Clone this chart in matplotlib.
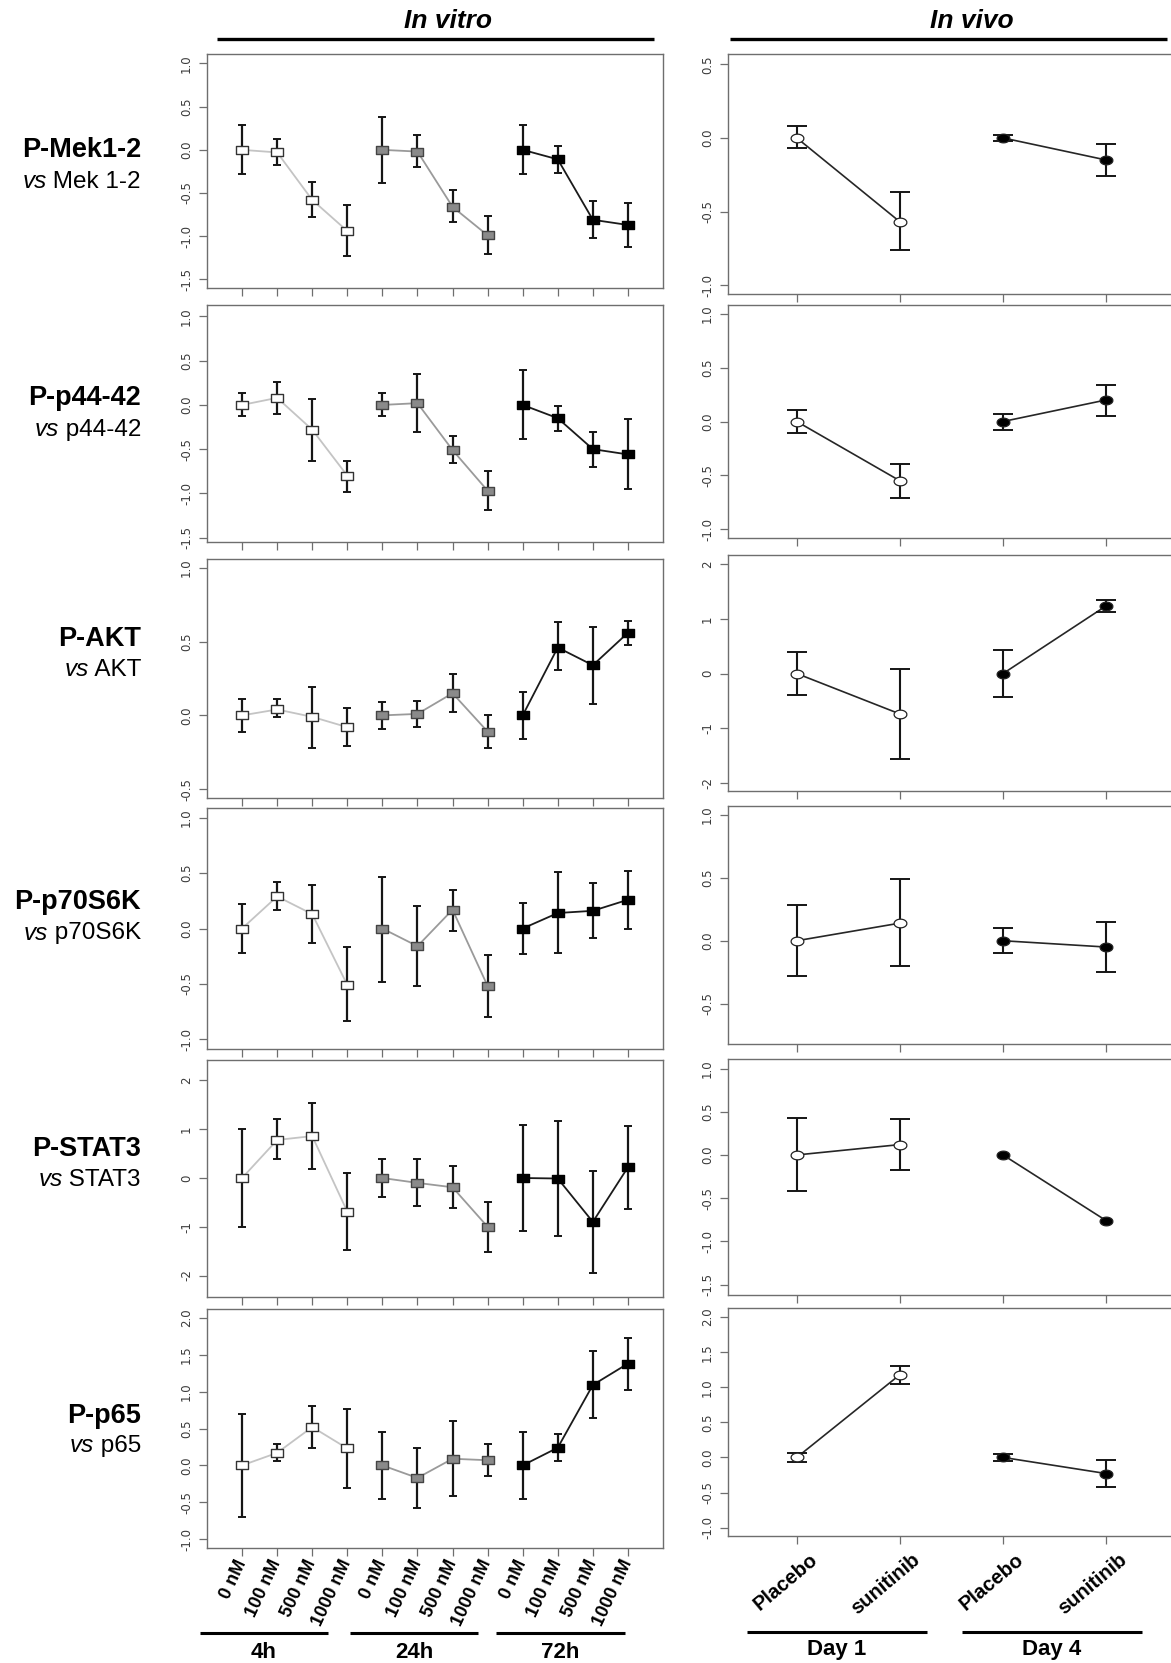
import matplotlib
matplotlib.use("Agg")
import matplotlib.pyplot as plt
from matplotlib.lines import Line2D
from matplotlib.transforms import ScaledTranslation
from matplotlib.path import Path
import numpy as np

W, H, DPI = 1171, 1663, 100

# ---------------- data ----------------
dose_labels = ["0 nM", "100 nM", "500 nM", "1000 nM"]
time_labels = ["4h", "24h", "72h"]
vivo_labels = ["Placebo", "sunitinib"]
day_labels = ["Day 1", "Day 4"]
phospho = ["P-Mek1-2", "P-p44-42", "P-AKT", "P-p70S6K", "P-STAT3", "P-p65"]
totals = ["Mek 1-2", "p44-42", "AKT", "p70S6K", "STAT3", "p65"]

# in vitro: 12 values = 4 doses x (4h, 24h, 72h)
mek_vitro_mean = [0.0, -0.03, -0.58, -0.94, 0.0, -0.02, -0.66, -0.99, 0.0, -0.11, -0.81, -0.87]
mek_vitro_lo = [-0.28, -0.18, -0.78, -1.23, -0.38, -0.20, -0.84, -1.21, -0.28, -0.27, -1.02, -1.12]
mek_vitro_hi = [0.29, 0.13, -0.37, -0.64, 0.38, 0.17, -0.47, -0.77, 0.29, 0.05, -0.59, -0.61]

p44_vitro_mean = [0.0, 0.08, -0.28, -0.80, 0.0, 0.02, -0.51, -0.97, 0.0, -0.15, -0.50, -0.56]
p44_vitro_lo = [-0.13, -0.10, -0.63, -0.98, -0.12, -0.31, -0.66, -1.19, -0.39, -0.29, -0.70, -0.95]
p44_vitro_hi = [0.14, 0.26, 0.07, -0.63, 0.13, 0.35, -0.35, -0.75, 0.40, -0.01, -0.31, -0.16]

akt_vitro_mean = [0.0, 0.04, -0.01, -0.08, 0.0, 0.01, 0.15, -0.11, 0.0, 0.46, 0.34, 0.56]
akt_vitro_lo = [-0.11, -0.01, -0.22, -0.21, -0.09, -0.08, 0.02, -0.22, -0.16, 0.31, 0.08, 0.48]
akt_vitro_hi = [0.11, 0.11, 0.19, 0.05, 0.09, 0.10, 0.28, 0.0, 0.16, 0.63, 0.60, 0.64]

s6k_vitro_mean = [0.0, 0.29, 0.13, -0.51, 0.0, -0.16, 0.17, -0.52, 0.0, 0.14, 0.16, 0.26]
s6k_vitro_lo = [-0.22, 0.17, -0.13, -0.84, -0.48, -0.52, -0.02, -0.80, -0.23, -0.22, -0.09, 0.0]
s6k_vitro_hi = [0.22, 0.42, 0.39, -0.17, 0.47, 0.20, 0.35, -0.24, 0.23, 0.51, 0.41, 0.52]

stat3_vitro_mean = [0.0, 0.78, 0.86, -0.69, 0.0, -0.10, -0.19, -1.0, 0.0, -0.01, -0.90, 0.22]
stat3_vitro_lo = [-1.0, 0.38, 0.19, -1.47, -0.39, -0.58, -0.62, -1.51, -1.09, -1.18, -1.94, -0.63]
stat3_vitro_hi = [1.0, 1.20, 1.54, 0.10, 0.39, 0.39, 0.24, -0.50, 1.09, 1.16, 0.15, 1.07]

p65_vitro_mean = [0.0, 0.17, 0.52, 0.23, 0.0, -0.17, 0.09, 0.07, 0.0, 0.24, 1.09, 1.38]
p65_vitro_lo = [-0.70, 0.06, 0.24, -0.30, -0.45, -0.58, -0.41, -0.14, -0.45, 0.06, 0.64, 1.02]
p65_vitro_hi = [0.70, 0.29, 0.80, 0.77, 0.45, 0.23, 0.60, 0.29, 0.45, 0.43, 1.55, 1.73]

# in vivo: Day 1 (placebo, sunitinib), Day 4 (placebo, sunitinib)
mek_vivo_mean = [0.0, -0.57, 0.0, -0.15]
mek_vivo_lo = [-0.07, -0.76, -0.02, -0.26]
mek_vivo_hi = [0.08, -0.37, 0.02, -0.04]

p44_vivo_mean = [0.0, -0.55, 0.0, 0.20]
p44_vivo_lo = [-0.11, -0.71, -0.08, 0.05]
p44_vivo_hi = [0.11, -0.39, 0.07, 0.34]

akt_vivo_mean = [0.0, -0.74, 0.0, 1.24]
akt_vivo_lo = [-0.39, -1.57, -0.43, 1.12]
akt_vivo_hi = [0.39, 0.09, 0.43, 1.35]

s6k_vivo_mean = [0.0, 0.14, 0.0, -0.05]
s6k_vivo_lo = [-0.28, -0.20, -0.10, -0.25]
s6k_vivo_hi = [0.28, 0.49, 0.10, 0.15]

stat3_vivo_mean = [0.0, 0.12, 0.0, -0.76]
stat3_vivo_lo = [-0.42, -0.17, np.nan, np.nan]
stat3_vivo_hi = [0.43, 0.42, np.nan, np.nan]

p65_vivo_mean = [0.0, 1.18, 0.0, -0.23]
p65_vivo_lo = [-0.07, 1.05, -0.05, -0.42]
p65_vivo_hi = [0.07, 1.31, 0.05, -0.04]

vitro_sets = [
    (mek_vitro_mean, mek_vitro_lo, mek_vitro_hi),
    (p44_vitro_mean, p44_vitro_lo, p44_vitro_hi),
    (akt_vitro_mean, akt_vitro_lo, akt_vitro_hi),
    (s6k_vitro_mean, s6k_vitro_lo, s6k_vitro_hi),
    (stat3_vitro_mean, stat3_vitro_lo, stat3_vitro_hi),
    (p65_vitro_mean, p65_vitro_lo, p65_vitro_hi),
]
vivo_sets = [
    (mek_vivo_mean, mek_vivo_lo, mek_vivo_hi),
    (p44_vivo_mean, p44_vivo_lo, p44_vivo_hi),
    (akt_vivo_mean, akt_vivo_lo, akt_vivo_hi),
    (s6k_vivo_mean, s6k_vivo_lo, s6k_vivo_hi),
    (stat3_vivo_mean, stat3_vivo_lo, stat3_vivo_hi),
    (p65_vivo_mean, p65_vivo_lo, p65_vivo_hi),
]

# ---------------- layout / style ----------------
left_rows = [(54, 288), (305, 542), (559, 798), (808, 1049), (1060, 1297), (1309, 1548)]
right_rows = [(54, 294), (305, 538), (555, 791), (806, 1044), (1059, 1295), (1308, 1536)]
left_x = (207, 663)
right_x = (728, 1175)

left_ylims = [(-1.60, 1.11), (-1.55, 1.13), (-0.56, 1.06), (-1.09, 1.09), (-2.44, 2.42), (-1.12, 2.12)]
right_ylims = [(-1.06, 0.57), (-1.08, 1.08), (-2.15, 2.17), (-0.82, 1.07), (-1.62, 1.11), (-1.12, 2.13)]
left_yticks = [[-1.5, -1.0, -0.5, 0.0, 0.5, 1.0], [-1.5, -1.0, -0.5, 0.0, 0.5, 1.0],
               [-0.5, 0.0, 0.5, 1.0], [-1.0, -0.5, 0.0, 0.5, 1.0], [-2, -1, 0, 1, 2],
               [-1.0, -0.5, 0.0, 0.5, 1.0, 1.5, 2.0]]
right_yticks = [[-1.0, -0.5, 0.0, 0.5], [-1.0, -0.5, 0.0, 0.5, 1.0], [-2, -1, 0, 1, 2],
                [-0.5, 0.0, 0.5, 1.0], [-1.5, -1.0, -0.5, 0.0, 0.5, 1.0],
                [-1.0, -0.5, 0.0, 0.5, 1.0, 1.5, 2.0]]
int_rows_left = {4}
int_rows_right = {2}

label_y = [(150, 182), (398, 430), (639, 670), (902, 933), (1149, 1180), (1416, 1446)]

group_fill = ["white", "#8a8a8a", "black"]
group_edge = ["#333333", "#444444", "black"]
group_line = ["#c4c4c4", "#9a9a9a", "#1a1a1a"]
spine_col = "#6e6e6e"
tick_font = ["Liberation Sans Narrow", "DejaVu Sans"]
main_font = ["Liberation Sans", "DejaVu Sans"]

rect_marker = Path([(-1, -0.7), (1, -0.7), (1, 0.7), (-1, 0.7), (-1, -0.7)],
                   [Path.MOVETO, Path.LINETO, Path.LINETO, Path.LINETO, Path.CLOSEPOLY])
th = np.linspace(0, 2 * np.pi, 41)
ell_marker = Path(np.column_stack([np.cos(th), 0.68 * np.sin(th)]))

fig = plt.figure(figsize=(W / DPI, H / DPI), dpi=DPI)
fig.patch.set_facecolor("white")


def add_ax(x0, x1, y0, y1):
    return fig.add_axes([x0 / W, 1 - y1 / H, (x1 - x0) / W, (y1 - y0) / H])


def fmt(v, as_int):
    return ("%d" % v) if as_int else ("%.1f" % v)


def style_axes(ax, yticks, as_int):
    for s in ax.spines.values():
        s.set_color(spine_col)
        s.set_linewidth(1.0)
    ax.set_yticks(yticks)
    ax.set_yticklabels([fmt(v, as_int) for v in yticks], rotation=90, va="center",
                       family=tick_font, fontsize=8.5, color="#3a3a3a")
    ax.tick_params(axis="both", direction="out", length=6, width=0.9, color=spine_col)
    ax.tick_params(axis="y", pad=4)


px = 72.0 / DPI  # points per pixel

for r in range(6):
    # ---------- in vitro ----------
    ax = add_ax(left_x[0], left_x[1], left_rows[r][0], left_rows[r][1])
    mean, lo, hi = [np.array(a, dtype=float) for a in vitro_sets[r]]
    xs = np.arange(1, 13)
    for g in range(3):
        sl = slice(4 * g, 4 * g + 4)
        ax.plot(xs[sl], mean[sl], color=group_line[g], lw=1.3, zorder=2)
        ax.errorbar(xs[sl], mean[sl], yerr=[mean[sl] - lo[sl], hi[sl] - mean[sl]],
                    fmt="none", ecolor="#151515", elinewidth=1.6, capsize=3.0,
                    capthick=1.4, zorder=3)
        ax.plot(xs[sl], mean[sl], linestyle="none", marker=rect_marker, ms=8.6,
                mfc=group_fill[g], mec=group_edge[g], mew=1.0, zorder=4)
    ax.set_xlim(0, 13)
    ax.set_ylim(*left_ylims[r])
    ax.set_xticks(xs)
    style_axes(ax, left_yticks[r], r in int_rows_left)
    if r == 5:
        ax.set_xticklabels(dose_labels * 3, rotation=65, ha="right", va="center",
                           rotation_mode="anchor", fontweight="bold", fontsize=13,
                           family=main_font)
        ax.tick_params(axis="x", pad=4 * px)
    else:
        ax.set_xticklabels([])

    # ---------- in vivo ----------
    ax2 = add_ax(right_x[0], right_x[1], right_rows[r][0], right_rows[r][1])
    mean, lo, hi = [np.array(a, dtype=float) for a in vivo_sets[r]]
    xv = np.arange(1, 5)
    vfill = ["white", "black"]
    for g in range(2):
        sl = slice(2 * g, 2 * g + 2)
        ax2.plot(xv[sl], mean[sl], color="#262626", lw=1.2, zorder=2)
        ok = ~np.isnan(lo[sl])
        if ok.any():
            ax2.errorbar(xv[sl][ok], mean[sl][ok],
                         yerr=[(mean[sl] - lo[sl])[ok], (hi[sl] - mean[sl])[ok]],
                         fmt="none", ecolor="#151515", elinewidth=1.5, capsize=7.5,
                         capthick=1.4, zorder=3)
        ax2.plot(xv[sl], mean[sl], linestyle="none", marker=ell_marker, ms=9.2,
                 mfc=vfill[g], mec="#222222", mew=0.9, zorder=4)
    ax2.set_xlim(1 - 0.667, 4 + 0.667)
    ax2.set_ylim(*right_ylims[r])
    ax2.set_xticks(xv)
    style_axes(ax2, right_yticks[r], r in int_rows_right)
    if r == 5:
        ax2.set_xticklabels(vivo_labels * 2, rotation=40, ha="right", va="center",
                            rotation_mode="anchor", fontweight="bold", fontsize=14.5,
                            family=main_font)
        ax2.tick_params(axis="x", pad=13 * px)
        for lab in ax2.get_xticklabels():
            lab.set_transform(lab.get_transform() +
                              ScaledTranslation(18 / DPI, 0, fig.dpi_scale_trans))
    else:
        ax2.set_xticklabels([])

# ---------- row labels ----------
renderer = fig.canvas.get_renderer()
xr = 141
for r in range(6):
    fig.text(xr / W, 1 - label_y[r][0] / H, phospho[r], ha="right", va="center",
             fontsize=19.5, fontweight="bold", family=main_font)
    t = fig.text(xr / W, 1 - label_y[r][1] / H, " " + totals[r], ha="right", va="center",
                 fontsize=17.5, family=main_font)
    bb = t.get_window_extent(renderer=renderer)
    fig.text(bb.x0 / W, 1 - label_y[r][1] / H, "vs", ha="right", va="center",
             fontsize=17.5, style="italic", family=main_font)

# ---------- headers ----------
fig.text(448 / W, 1 - 21 / H, "In vitro", ha="center", va="center", fontsize=19,
         fontweight="bold", style="italic", family=main_font)
fig.text(972 / W, 1 - 21 / H, "In vivo", ha="center", va="center", fontsize=19,
         fontweight="bold", style="italic", family=main_font)


def hline(x0, x1, y, lw=2.4):
    fig.add_artist(Line2D([x0 / W, x1 / W], [1 - y / H, 1 - y / H], color="black",
                          lw=lw, transform=fig.transFigure, solid_capstyle="butt"))


hline(217, 654, 39)
hline(730, 1167, 39)

# ---------- group labels at bottom ----------
time_spans = [(200, 328), (350, 478), (496, 625)]
for (a, b), lab in zip(time_spans, time_labels):
    hline(a, b, 1633, lw=2.2)
    fig.text((a + b) / 2 / W, 1 - 1652 / H, lab, ha="center", va="center",
             fontsize=16, fontweight="bold", family=main_font)

day_spans = [(747, 927), (962, 1142)]
for (a, b), lab in zip(day_spans, day_labels):
    hline(a, b, 1632, lw=2.2)
    fig.text((a + b) / 2 / W, 1 - 1650 / H, lab, ha="center", va="center",
             fontsize=16, fontweight="bold", family=main_font)

fig.savefig("out.png", dpi=DPI, facecolor="white")
